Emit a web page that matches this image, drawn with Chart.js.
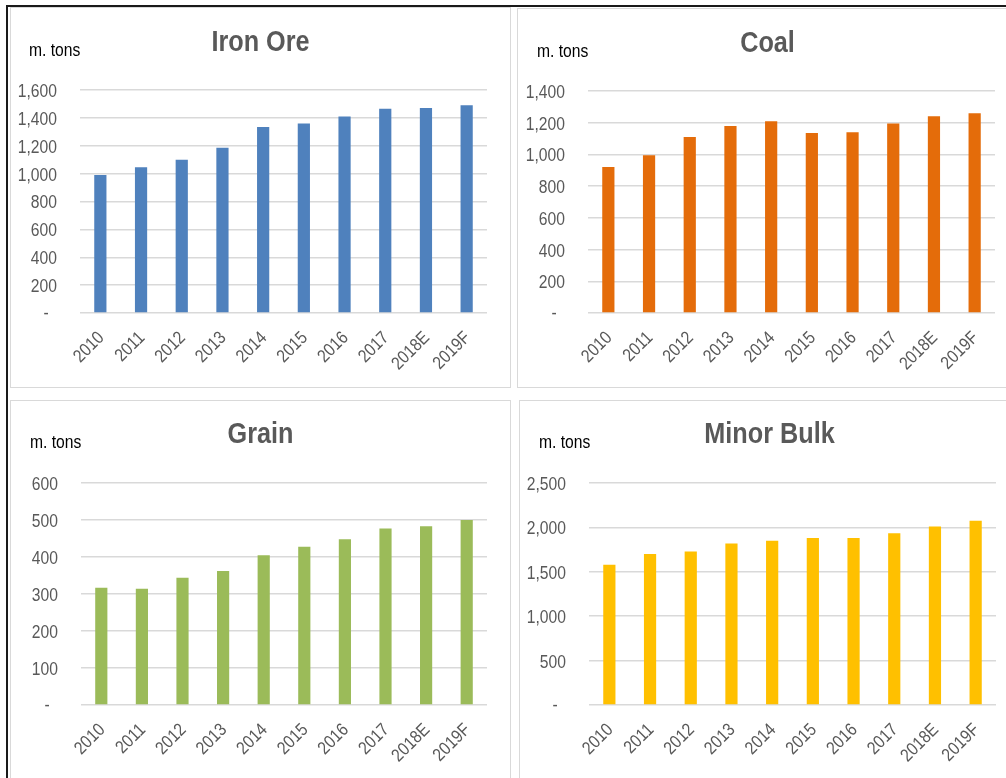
<!DOCTYPE html>
<html>
<head>
<meta charset="utf-8">
<script src="https://cdn.jsdelivr.net/npm/chart.js@4.4.1/dist/chart.umd.min.js"></script>
<style>
  html, body { margin: 0; padding: 0; background: #fff; width: 1006px; height: 778px; overflow: hidden; position: relative; }
  .frame { position: absolute; left: 6px; top: 5px; width: 1100px; height: 900px; border-top: 2px solid #1a1a1a; border-left: 2px solid #1a1a1a; }
  .panel { position: absolute; box-sizing: border-box; border: 1px solid #d9d9d9; background: #fff; width: 501px; }
  .panel canvas { display: block; }
</style>
</head>
<body>
<div class="frame"></div>
<div class="panel" style="left:10px; top:7px; height:381px;"><canvas id="ironChart" width="499" height="379"></canvas></div>
<div class="panel" style="left:517px; top:8px; height:380px;"><canvas id="coalChart" width="499" height="378"></canvas></div>
<div class="panel" style="left:10px; top:400px; height:381px;"><canvas id="grainChart" width="499" height="379"></canvas></div>
<div class="panel" style="left:519px; top:400px; height:381px;"><canvas id="minorChart" width="499" height="379"></canvas></div>
<script>
// Seaborne dry bulk trade volumes, million tons
const years = ['2010', '2011', '2012', '2013', '2014', '2015', '2016', '2017', '2018E', '2019F'];
const ironOre = [990, 1045, 1100, 1185, 1335, 1360, 1410, 1465, 1470, 1490];
const coal = [920, 995, 1110, 1180, 1210, 1135, 1140, 1195, 1240, 1260];
const grain = [317, 314, 344, 362, 405, 428, 448, 477, 483, 500];
const minorBulk = [1580, 1700, 1730, 1820, 1850, 1880, 1880, 1935, 2010, 2075];

// y-axis ranges: [max, step]
const ironAxis = [1600, 200];
const coalAxis = [1400, 200];
const grainAxis = [600, 100];
const minorAxis = [2500, 500];

const unitLabel = 'm. tons';
const FONT = '"Liberation Sans", Arial, sans-serif';
const NARROW = 0.87;   // horizontal squeeze giving the narrow typeface look

function narrowText(ctx, text, x, y, opts) {
  ctx.save();
  ctx.translate(x, y);
  if (opts.rotate) ctx.rotate(opts.rotate);
  ctx.scale(NARROW, 1);
  ctx.font = opts.font;
  ctx.fillStyle = opts.color;
  ctx.textAlign = opts.align || 'left';
  ctx.textBaseline = 'middle';
  ctx.fillText(text, 0, 0);
  ctx.restore();
}

function fmt(v) {
  return v.toLocaleString('en-US');
}

// Titles, unit text and axis labels, placed from the chart's own scales
const panelText = {
  id: 'panelText',
  afterDraw(chart, args, opts) {
    const ctx = chart.ctx;
    const area = chart.chartArea;
    const xs = chart.scales.x;
    const ys = chart.scales.y;

    narrowText(ctx, opts.title, chart.width / 2, opts.titleY,
      { font: 'bold 29px ' + FONT, color: '#595959', align: 'center' });
    narrowText(ctx, unitLabel, opts.unitX, opts.unitY,
      { font: '18px ' + FONT, color: '#000000', align: 'left' });

    ys.ticks.forEach((t) => {
      const py = ys.getPixelForValue(t.value);
      if (t.value === 0) {
        narrowText(ctx, '-', area.left - 34, py + 1,
          { font: '18px ' + FONT, color: '#595959', align: 'center' });
      } else {
        narrowText(ctx, fmt(t.value), area.left - 23, py + 2,
          { font: '18px ' + FONT, color: '#595959', align: 'right' });
      }
    });

    chart.data.labels.forEach((lab, i) => {
      const px = xs.getPixelForTick(i);
      narrowText(ctx, lab, px + 1, area.bottom + 22,
        { font: '18px ' + FONT, color: '#595959', align: 'right', rotate: -Math.PI / 4 });
    });
  }
};

function makeChart(id, title, values, axis, color, area, canvasH) {
  const [yMax, yStep] = axis;
  return new Chart(document.getElementById(id), {
    type: 'bar',
    data: {
      labels: years,
      datasets: [{
        data: values,
        backgroundColor: color,
        borderWidth: 0,
        barPercentage: 0.3,
        categoryPercentage: 1.0
      }]
    },
    plugins: [panelText],
    options: {
      responsive: false,
      animation: false,
      events: [],
      layout: { padding: { top: area.top, right: 499 - area.right, left: 0, bottom: 0 } },
      plugins: {
        legend: { display: false },
        tooltip: { enabled: false },
        title: { display: false },
        panelText: { title: title, titleY: area.titleY, unitX: area.unitX, unitY: area.unitY }
      },
      scales: {
        x: {
          grid: { display: false, drawTicks: false },
          border: { display: false },
          ticks: { display: false, autoSkip: false },
          afterFit(scale) { scale.height = canvasH - area.bottom; }
        },
        y: {
          min: 0,
          max: yMax,
          grid: { color: '#d9d9d9', lineWidth: 1.5, drawTicks: false },
          border: { display: false },
          ticks: { display: false, stepSize: yStep },
          afterFit(scale) { scale.width = area.left; }
        }
      }
    }
  });
}

makeChart('ironChart', 'Iron Ore', ironOre, ironAxis, '#4f81bd',
  { left: 69, right: 476, top: 82, bottom: 305, titleY: 35, unitX: 18, unitY: 43 }, 379);
makeChart('coalChart', 'Coal', coal, coalAxis, '#e46c0a',
  { left: 70, right: 477, top: 82, bottom: 304, titleY: 35, unitX: 19, unitY: 43 }, 378);
makeChart('grainChart', 'Grain', grain, grainAxis, '#9bbb59',
  { left: 70, right: 476, top: 82, bottom: 304, titleY: 34, unitX: 19, unitY: 42 }, 379);
makeChart('minorChart', 'Minor Bulk', minorBulk, minorAxis, '#ffc000',
  { left: 69, right: 476, top: 82, bottom: 304, titleY: 34, unitX: 19, unitY: 42 }, 379);
</script>
</body>
</html>
